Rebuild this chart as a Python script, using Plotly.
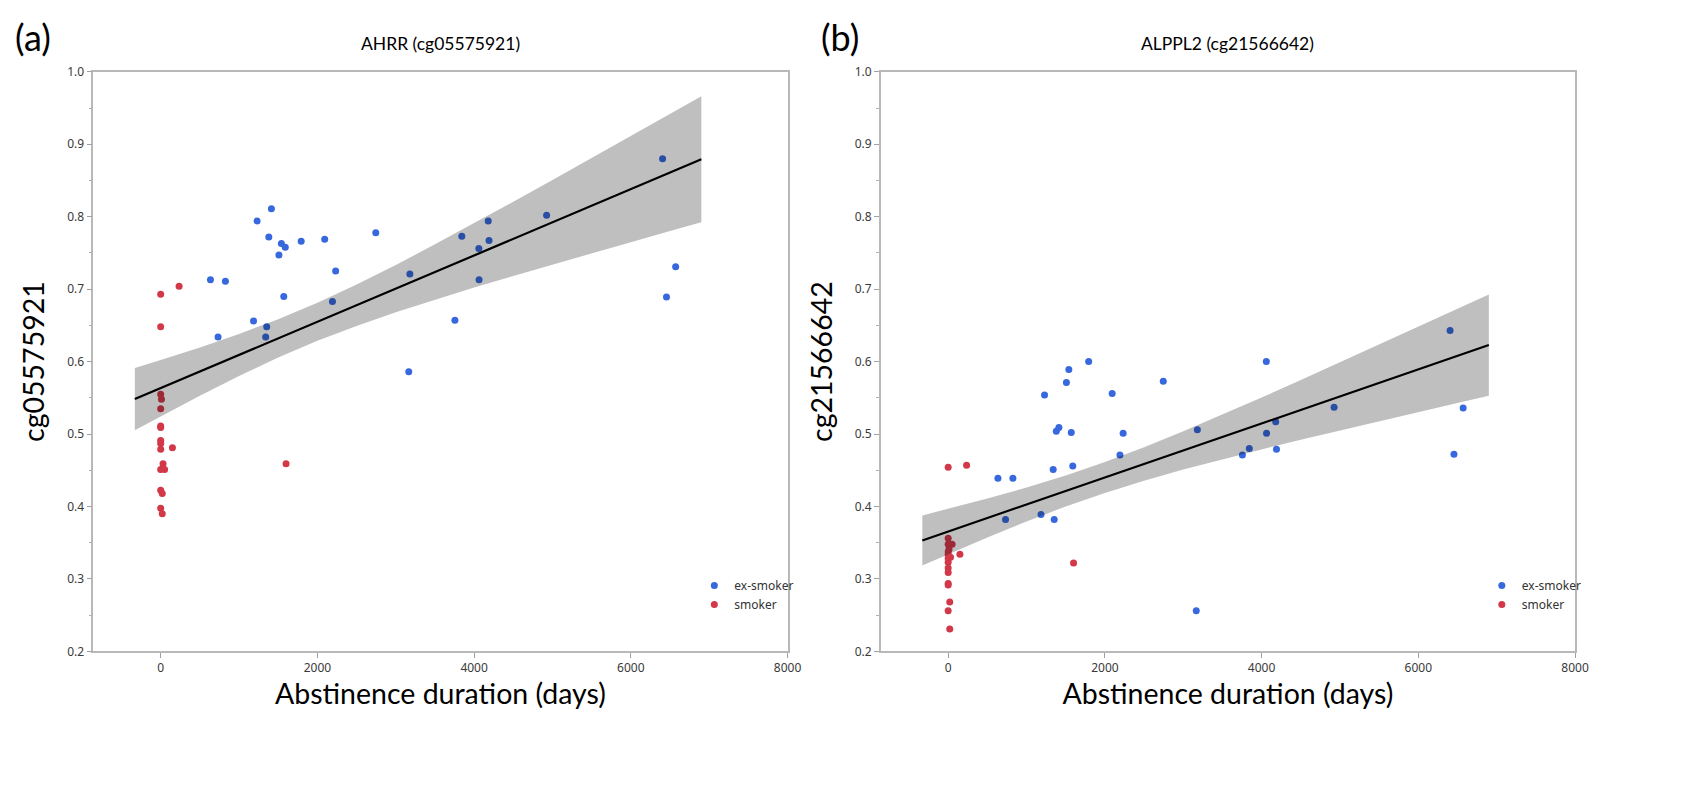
import plotly.graph_objects as go

# ---------------- data ----------------
ex_days = [6405, 4925, 4180, 4190, 3843, 4060, 4063, 3755, 3180, 3166,
           2745, 2233, 2192, 2093, 1793, 1413, 1230, 1380, 1540, 1590,
           1509, 1571, 635, 826, 732, 1185, 1353, 1340, 6572, 6455]
ex_ahrr = [0.880, 0.802, 0.794, 0.767, 0.773, 0.756, 0.713, 0.657, 0.721, 0.586,
           0.778, 0.725, 0.683, 0.769, 0.766, 0.811, 0.794, 0.772, 0.763, 0.758,
           0.747, 0.690, 0.713, 0.711, 0.634, 0.656, 0.648, 0.634, 0.731, 0.689]
ex_alppl2 = [0.643, 0.537, 0.517, 0.479, 0.480, 0.600, 0.501, 0.471, 0.506, 0.256,
             0.573, 0.501, 0.471, 0.556, 0.600, 0.509, 0.554, 0.504, 0.589, 0.456,
             0.571, 0.502, 0.439, 0.439, 0.382, 0.389, 0.382, 0.451, 0.536, 0.472]

sm_days = [0, 0, 0, 10, 0, 0, 0, 0, 0, 0, 0, 0, 20, 0, 20, 235, 150, 30, 50, 1600]
sm_ahrr = [0.693, 0.648, 0.555, 0.548, 0.535, 0.511, 0.509, 0.491, 0.487, 0.479,
           0.451, 0.4225, 0.418, 0.3975, 0.390, 0.704, 0.481, 0.459, 0.451, 0.459]
sm_alppl2 = [0.454, 0.356, 0.348, 0.341, 0.337, 0.333, 0.328, 0.323, 0.315, 0.309,
             0.2935, 0.2915, 0.268, 0.256, 0.231, 0.457, 0.334, 0.330, 0.348, 0.322]

# fitted line and confidence band
band_x = [-330, 0, 500, 1000, 1500, 2000, 2500, 3000, 3500, 4000,
          4500, 5000, 5500, 6000, 6500, 6900]
ahrr_fit = [0.5482, 0.5633, 0.5862, 0.6091, 0.6320, 0.6549, 0.6778, 0.7007, 0.7236, 0.7465,
            0.7694, 0.7923, 0.8152, 0.8381, 0.8610, 0.8793]
ahrr_lo = [0.5052, 0.5244, 0.5529, 0.5801, 0.6055, 0.6286, 0.6492, 0.6680, 0.6854, 0.7021,
           0.7182, 0.7340, 0.7495, 0.7649, 0.7802, 0.7923]
ahrr_hi = [0.5912, 0.6022, 0.6195, 0.6381, 0.6585, 0.6812, 0.7064, 0.7334, 0.7618, 0.7909,
           0.8206, 0.8506, 0.8809, 0.9113, 0.9418, 0.9663]
alppl2_fit = [0.3531, 0.3654, 0.3841, 0.4027, 0.4214, 0.4400, 0.4587, 0.4773, 0.4960, 0.5146,
              0.5333, 0.5519, 0.5706, 0.5892, 0.6079, 0.6228]
alppl2_lo = [0.3185, 0.3341, 0.3572, 0.3793, 0.4000, 0.4187, 0.4356, 0.4509, 0.4652, 0.4788,
             0.4921, 0.5050, 0.5178, 0.5304, 0.5430, 0.5529]
alppl2_hi = [0.3877, 0.3967, 0.4110, 0.4261, 0.4428, 0.4613, 0.4818, 0.5037, 0.5268, 0.5504,
             0.5745, 0.5988, 0.6234, 0.6480, 0.6728, 0.6927]

panel_letters = ["(a)", "(b)"]
panel_titles = ["AHRR (cg05575921)", "ALPPL2 (cg21566642)"]
y_titles = ["cg05575921", "cg21566642"]
x_title = "Abstinence duration (days)"
x_ticks = [0, 2000, 4000, 6000, 8000]
y_ticks = [0.2, 0.3, 0.4, 0.5, 0.6, 0.7, 0.8, 0.9, 1.0]

BLUE = "rgb(55,104,222)"
RED = "rgb(210,56,72)"

W, H = 1707, 807
fig = go.Figure()

panels = [
    dict(xa="x", ya="y", leg="legend", ex=ex_ahrr, sm=sm_ahrr,
         fit=ahrr_fit, lo=ahrr_lo, hi=ahrr_hi),
    dict(xa="x2", ya="y2", leg="legend2", ex=ex_alppl2, sm=sm_alppl2,
         fit=alppl2_fit, lo=alppl2_lo, hi=alppl2_hi),
]

for p in panels:
    fig.add_trace(go.Scatter(x=ex_days, y=p["ex"], mode="markers", name="ex-smoker",
                             xaxis=p["xa"], yaxis=p["ya"], legend=p["leg"],
                             marker=dict(color=BLUE, size=7, line=dict(width=0))))
    fig.add_trace(go.Scatter(x=sm_days, y=p["sm"], mode="markers", name="smoker",
                             xaxis=p["xa"], yaxis=p["ya"], legend=p["leg"],
                             marker=dict(color=RED, size=7, line=dict(width=0))))
    fig.add_trace(go.Scatter(x=band_x + band_x[::-1], y=p["lo"] + p["hi"][::-1],
                             mode="lines", fill="toself", fillcolor="rgba(0,0,0,0.25)",
                             line=dict(width=0), hoverinfo="skip", showlegend=False,
                             xaxis=p["xa"], yaxis=p["ya"]))
    fig.add_trace(go.Scatter(x=band_x, y=p["fit"], mode="lines",
                             line=dict(color="black", width=2.2), showlegend=False,
                             xaxis=p["xa"], yaxis=p["ya"]))

x_dom = [[86 / W, 786 / W], [880 / W, 1580 / W]]
y_dom = [1 - 648 / H, 1 - 56 / H]

tickfont = dict(family="Noto Sans", size=12, color="#3a3a3a")
titlefont = dict(family="Lato", size=28.5, color="black")

axis_common = dict(showline=True, mirror=True, linecolor="#b8b8b8", linewidth=1.5,
                   showgrid=False, zeroline=False, ticks="outside", ticklen=5,
                   tickcolor="#a0a0a0", tickfont=tickfont)

layout = dict(width=W, height=H, margin=dict(l=0, r=0, t=0, b=0),
              paper_bgcolor="white", plot_bgcolor="white", showlegend=True)

for i in range(2):
    sx = "" if i == 0 else "2"
    layout["xaxis" + sx] = dict(axis_common, domain=x_dom[i], range=[-860, 8000],
                                tickvals=x_ticks, ticktext=[str(t) for t in x_ticks],
                                anchor="y" + sx,
                                title=dict(text=x_title, font=titlefont, standoff=8))
    layout["yaxis" + sx] = dict(axis_common, domain=y_dom, range=[0.2, 1.0],
                                tickvals=y_ticks, ticktext=[f"{t:.1f}" for t in y_ticks],
                                anchor="x" + sx,
                                minor=dict(ticks="outside", ticklen=3, dtick=0.05,
                                           tickcolor="#b0b0b0"),
                                title=dict(text=y_titles[i], font=titlefont, standoff=14))

leg_common = dict(bgcolor="rgba(0,0,0,0)", font=dict(family="Noto Sans", size=12, color="#333"),
                  itemwidth=30, tracegroupgap=0, xanchor="left", yanchor="top",
                  itemclick=False)
layout["legend"] = dict(leg_common, x=692 / W, y=1 - 566 / H)
layout["legend2"] = dict(leg_common, x=1486 / W, y=1 - 566 / H)

annotations = []
for i in range(2):
    annotations.append(dict(text=panel_letters[i], x=[5 / W, 818 / W][i], y=1 + 4 / H,
                            xref="paper", yref="paper", xanchor="left", yanchor="top",
                            showarrow=False, font=dict(family="Lato", size=36, color="black")))
    annotations.append(dict(text=panel_titles[i], x=(x_dom[i][0] + x_dom[i][1]) / 2,
                            y=1 - 27 / H, xref="paper", yref="paper",
                            xanchor="center", yanchor="middle", showarrow=False,
                            font=dict(family="Lato", size=17.5, color="black")))
layout["annotations"] = annotations

fig.update_layout(**layout)
fig.write_html("out.html")
